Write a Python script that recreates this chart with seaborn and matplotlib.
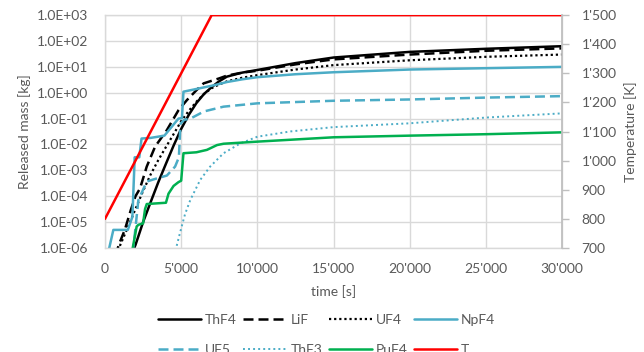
import matplotlib
matplotlib.use("Agg")
import matplotlib.pyplot as plt
import matplotlib.ticker as mticker
import seaborn as sns

# ---------------- data ----------------
thf4_t = [1700, 2000, 2500, 3000, 3500, 4000, 4500, 5000, 5500, 6000, 6500, 7000, 7500, 8000,
          9000, 10000, 12500, 15000, 20000, 25000, 30000]
thf4_m = [5e-7, 1.3e-6, 1e-5, 6e-5, 3.5e-4, 1.8e-3, 9e-3, 0.04, 0.14, 0.4, 0.9, 1.65, 2.8, 4.2,
          6.0, 7.6, 14, 23, 38, 50, 63]

lif_t = [700, 900, 1300, 1700, 2000, 2300, 2740, 3290, 4060, 4820, 5375, 6000, 6470, 7000, 7500,
         8000, 9000, 10000, 12500, 15000, 20000, 25000, 30000]
lif_m = [5e-7, 1.3e-6, 5e-6, 3e-5, 1e-4, 2e-4, 1.4e-3, 8.3e-3, 0.036, 0.21, 0.52, 1.25, 2.3, 2.9,
         3.6, 4.6, 6.0, 7.1, 12.5, 19.5, 30, 42, 52]

uf4_t = [800, 1000, 1500, 2000, 2500, 3000, 3500, 4000, 4500, 5000, 5500, 6000, 6500, 7000, 7500,
         8000, 9000, 10000, 12500, 15000, 20000, 25000, 30000]
uf4_m = [5e-7, 1.3e-6, 6.3e-6, 3.2e-5, 1.6e-4, 7e-4, 2.5e-3, 8e-3, 0.025, 0.08, 0.2, 0.45, 0.9,
         1.5, 2.1, 2.75, 3.8, 4.8, 7.9, 11.7, 18, 24.5, 30]

npf4_t = [250, 280, 550, 1500, 1650, 1800, 1950, 2250, 2400, 3000, 3900, 4400, 4820, 5050, 5150,
          6000, 7240, 8000, 9000, 10000, 12500, 15000, 20000, 25000, 30000]
npf4_m = [5e-7, 1e-6, 5e-6, 5e-6, 9e-6, 1.6e-5, 3.2e-3, 3.2e-3, 1.7e-2, 1.8e-2, 2.2e-2, 0.05, 0.1,
          0.105, 1.1, 1.4, 2.0, 2.6, 3.3, 4.0, 5.2, 6.2, 7.9, 8.9, 10]

uf5_t = [1800, 1900, 2190, 2740, 3200, 4060, 4600, 4850, 4950, 5200, 5600, 6500, 7780, 10000,
         15000, 20000, 25000, 30000]
uf5_m = [6e-7, 1.6e-6, 7e-5, 3.7e-4, 4.5e-4, 6.3e-4, 1.4e-3, 3.2e-3, 0.063, 0.09, 0.1, 0.19, 0.29,
         0.39, 0.49, 0.55, 0.65, 0.74]

thf3_t = [4600, 4670, 4930, 5250, 5600, 6250, 6900, 7780, 8880, 10000, 12170, 15000, 20000,
          25000, 30000]
thf3_m = [5e-7, 1e-6, 4e-6, 2e-5, 7.2e-5, 4.3e-4, 1.4e-3, 4.6e-3, 0.011, 0.02, 0.032, 0.047,
          0.066, 0.11, 0.16]

puf4_t = [1750, 1820, 2080, 2200, 2500, 2630, 2740, 4000, 4170, 4500, 4820, 5000, 5150, 6000,
          6690, 7350, 7780, 10000, 15000, 20000, 25000, 30000]
puf4_m = [5e-7, 1e-6, 6.8e-6, 7.9e-6, 8.9e-6, 3.2e-5, 5e-5, 5.6e-5, 1.26e-4, 2.5e-4, 3.5e-4, 4e-4,
          4.6e-3, 5e-3, 6.2e-3, 9.5e-3, 0.0107, 0.0129, 0.019, 0.022, 0.025, 0.0295]

temp_t = [0, 7000, 30000]
temp_k = [800, 1500, 1500]

x_ticks = [0, 5000, 10000, 15000, 20000, 25000, 30000]
y_ticks = [1e-6, 1e-5, 1e-4, 1e-3, 1e-2, 1e-1, 1e0, 1e1, 1e2, 1e3]
t_ticks = [700, 800, 900, 1000, 1100, 1200, 1300, 1400, 1500]

# ---------------- style ----------------
sns.set_theme(style="white")
plt.rcParams["font.family"] = ["Lato", "DejaVu Sans"]
TXT = "#595959"
GRID = "#D9D9D9"
BLUE = "#4BACC6"
GREEN = "#00B050"
RED = "#FF0000"

fig, ax = plt.subplots(figsize=(6.44, 3.52), dpi=100)
fig.subplots_adjust(left=0.163, right=0.873, top=0.957, bottom=0.2955)

series = [
    ("ThF4", thf4_t, thf4_m, "black", "-", 1.8),
    ("LiF", lif_t, lif_m, "black", (0, (4, 2)), 1.8),
    ("UF4", uf4_t, uf4_m, "black", (0, (1, 1.3)), 1.6),
    ("NpF4", npf4_t, npf4_m, BLUE, "-", 1.8),
    ("UF5", uf5_t, uf5_m, BLUE, (0, (4, 2)), 1.8),
    ("ThF3", thf3_t, thf3_m, BLUE, (0, (1, 1.6)), 1.4),
    ("PuF4", puf4_t, puf4_m, GREEN, "-", 1.8),
]
handles = {}
for name, t, m, c, ls, lw in series:
    sns.lineplot(x=t, y=m, ax=ax, color=c, linestyle=ls, linewidth=lw,
                 estimator=None, sort=False, label=name, legend=False)
    handles[name] = ax.get_lines()[-1]

ax.set_yscale("log")
ax.set_ylim(1e-6, 1e3)
ax.set_xlim(0, 30000)
ax.set_yticks(y_ticks)
ax.yaxis.set_minor_locator(mticker.NullLocator())
ax.set_xticks(x_ticks)
ax.yaxis.set_major_formatter(mticker.FuncFormatter(lambda v, p: f"{v:.1E}"))
ax.xaxis.set_major_formatter(mticker.FuncFormatter(lambda v, p: f"{int(v):,}".replace(",", "'")))
ax.grid(True, color=GRID, linewidth=1)
ax.set_axisbelow(True)
for s in ax.spines.values():
    s.set_color(GRID)
    s.set_linewidth(1)
ax.tick_params(axis="both", length=0, colors=TXT, labelsize=10)
ax.tick_params(axis="y", pad=12)
ax.tick_params(axis="x", pad=11)
ax.set_xlabel("time [s]", color=TXT, fontsize=10, labelpad=7)
ax.set_ylabel("Released mass [kg]", color=TXT, fontsize=10, labelpad=4)

ax2 = ax.twinx()
sns.lineplot(x=temp_t, y=temp_k, ax=ax2, color=RED, linewidth=1.8,
             estimator=None, sort=False, label="T", legend=False)
handles["T"] = ax2.get_lines()[-1]
ax2.set_ylim(700, 1500)
ax2.set_yticks(t_ticks)
ax2.yaxis.set_major_formatter(mticker.FuncFormatter(lambda v, p: f"{int(v):,}".replace(",", "'")))
ax2.tick_params(axis="y", length=5, width=1, color="#BFBFBF", colors=TXT, labelsize=10, pad=9)
ax2.tick_params(axis="y", color="#BFBFBF")
for s in ax2.spines.values():
    s.set_visible(False)
ax2.spines["right"].set_visible(True)
ax2.spines["right"].set_color("#BFBFBF")
ax2.set_ylabel("Temperature [K]", color=TXT, fontsize=10, labelpad=5)
ax2.grid(False)

order = ["ThF4", "UF5", "LiF", "ThF3", "UF4", "PuF4", "NpF4", "T"]
leg = fig.legend([handles[k] for k in order], order, loc="upper left",
                 bbox_to_anchor=(158 / 644, 1 - 314 / 352), ncol=4, frameon=False,
                 fontsize=10, handlelength=3.1, handletextpad=0.3, columnspacing=0.45,
                 labelspacing=1.3, borderpad=0, borderaxespad=0)
for txt in leg.get_texts():
    txt.set_color(TXT)

fig.savefig("out.png", dpi=100)
